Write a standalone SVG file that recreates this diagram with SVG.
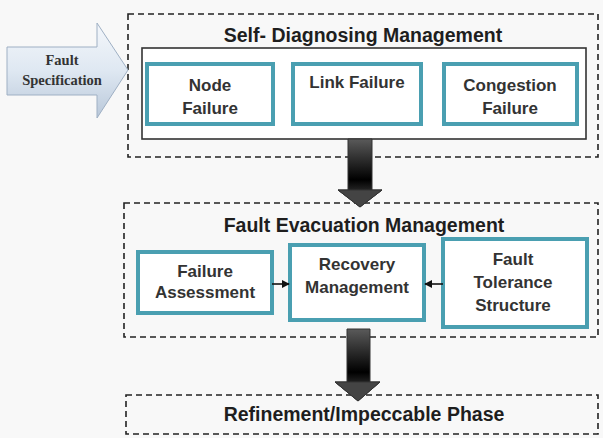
<svg xmlns="http://www.w3.org/2000/svg" width="603" height="438" viewBox="0 0 603 438">
  <defs>
    <linearGradient id="specFill" x1="0" y1="0" x2="0" y2="1">
      <stop offset="0" stop-color="#f4f7fb"/>
      <stop offset="0.5" stop-color="#dfe8f2"/>
      <stop offset="1" stop-color="#b9c8da"/>
    </linearGradient>
    <linearGradient id="shaftFill" x1="0" y1="0" x2="0" y2="1">
      <stop offset="0" stop-color="#5a5a5a"/>
      <stop offset="0.6" stop-color="#000"/>
      <stop offset="1" stop-color="#5e5e5e"/>
    </linearGradient>
    <marker id="tip" viewBox="0 0 10 10" refX="9" refY="5" markerWidth="5" markerHeight="5" orient="auto">
      <path d="M0,0 L10,5 L0,10 z" fill="#111"/>
    </marker>
    <style>
      .phase { fill: none; stroke: #222; stroke-width: 1.6; stroke-dasharray: 6 4; }
      .box { fill: #fff; stroke: #4a9fb1; stroke-width: 4; }
      .title { font-family: "Liberation Sans", Arial, sans-serif; font-weight: bold; font-size: 19.5px; fill: #1e1e1e; text-anchor: middle; }
      .lbl { font-family: "Liberation Sans", Arial, sans-serif; font-weight: bold; font-size: 17px; fill: #333; text-anchor: middle; }
      .spec { font-family: "Liberation Serif", "Times New Roman", serif; font-weight: bold; font-size: 14.5px; fill: #333; text-anchor: middle; }
      .link { stroke: #111; stroke-width: 1.6; fill: none; marker-end: url(#tip); }
      .big { stroke: #333; stroke-width: 1; }
    </style>
  </defs>

  <rect width="603" height="438" fill="#f8f8f8"/>

  <!-- Phase 1: self-diagnosis -->
  <g id="phase-self-diagnosing">
    <rect class="phase" x="128" y="14" width="470" height="143"/>
    <text class="title" x="363" y="42">Self- Diagnosing Management</text>
    <rect x="142" y="48" width="444" height="91" fill="#fff" stroke="#333" stroke-width="1.6"/>
  </g>
  <g id="node-failure">
    <rect class="box" x="147" y="64" width="126" height="60"/>
    <text class="lbl" x="210" y="91">Node</text>
    <text class="lbl" x="210" y="114">Failure</text>
  </g>
  <g id="link-failure">
    <rect class="box" x="293" y="64" width="128" height="60"/>
    <text class="lbl" x="357" y="88">Link Failure</text>
  </g>
  <g id="congestion-failure">
    <rect class="box" x="444" y="64" width="133" height="60"/>
    <text class="lbl" x="510" y="91">Congestion</text>
    <text class="lbl" x="510" y="114">Failure</text>
  </g>

  <!-- Input block arrow -->
  <g id="fault-specification">
    <path d="M7,47 L97,47 L97,23 L128,70 L97,118 L97,95 L7,95 Z" fill="url(#specFill)" stroke="#9fb0c4" stroke-width="1"/>
    <text class="spec" x="62" y="65">Fault</text>
    <text class="spec" x="62" y="85">Specification</text>
  </g>

  <!-- Phase 2: fault evacuation -->
  <g id="phase-fault-evacuation">
    <rect class="phase" x="124" y="203" width="474" height="134"/>
    <text class="title" x="364" y="232">Fault Evacuation Management</text>
  </g>
  <g id="failure-assessment">
    <rect class="box" x="138" y="252" width="134" height="61"/>
    <text class="lbl" x="205" y="277">Failure</text>
    <text class="lbl" x="205" y="298">Assessment</text>
  </g>
  <g id="recovery-management">
    <rect class="box" x="290" y="245" width="134" height="75"/>
    <text class="lbl" x="357" y="270">Recovery</text>
    <text class="lbl" x="357" y="293">Management</text>
  </g>
  <g id="fault-tolerance-structure">
    <rect class="box" x="443" y="239" width="144" height="88"/>
    <text class="lbl" x="513" y="265">Fault</text>
    <text class="lbl" x="513" y="288">Tolerance</text>
    <text class="lbl" x="513" y="311">Structure</text>
  </g>

  <!-- Phase 3 -->
  <g id="phase-refinement">
    <rect class="phase" x="126" y="395" width="472" height="39"/>
    <text class="title" x="364" y="421">Refinement/Impeccable Phase</text>
  </g>

  <!-- Connectors -->
  <g id="connectors">
    <line class="link" x1="272" y1="284" x2="289" y2="284"/>
    <line class="link" x1="443" y1="284" x2="425" y2="284"/>
    <path class="big" d="M348,139 L372,139 L372,190 L382,190 L360,207 L338,190 L348,190 Z" fill="url(#shaftFill)"/>
    <path class="big" d="M338,190 L382,190 L360,207 Z" fill="#444"/>
    <path class="big" d="M347,329 L370,329 L370,382 L380,382 L358,401 L335,382 L347,382 Z" fill="url(#shaftFill)"/>
    <path class="big" d="M335,382 L380,382 L358,401 Z" fill="#444"/>
  </g>
</svg>
